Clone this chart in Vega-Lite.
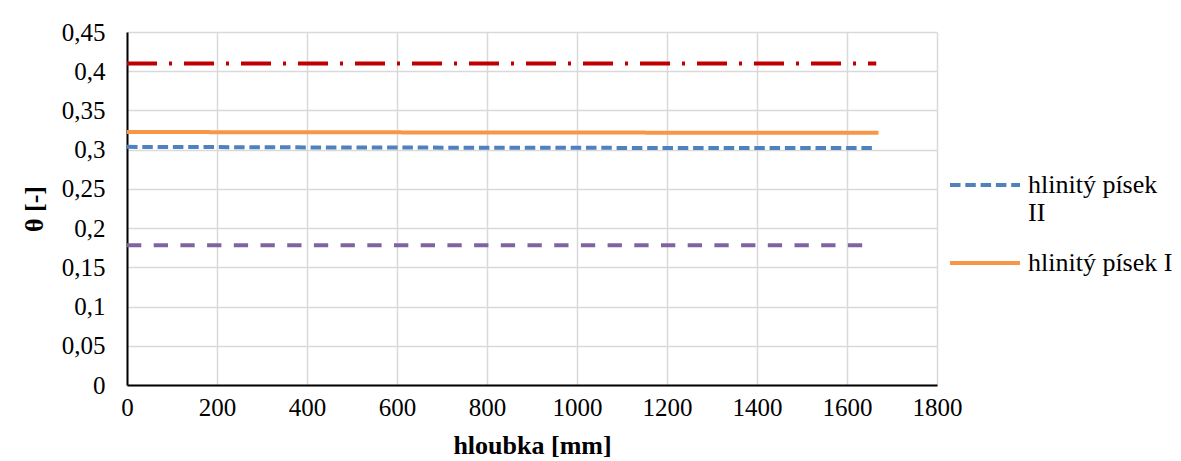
{
  "$schema": "https://vega.github.io/schema/vega-lite/v6.json",
  "width": 810,
  "height": 353,
  "autosize": {"type": "none"},
  "padding": {"left": 127, "top": 32, "right": 244, "bottom": 76},
  "background": "white",
  "config": {
    "font": "Times New Roman",
    "view": {"stroke": null},
    "axis": {"labelFont": "Times New Roman", "titleFont": "Times New Roman", "labelColor": "black", "titleColor": "black"},
    "legend": {"labelFont": "Times New Roman"}
  },
  "data": {
    "values": [
      {"serie": "řada 3", "hloubka": 0, "theta": 0.41},
      {"serie": "řada 3", "hloubka": 1665, "theta": 0.41},
      {"serie": "hlinitý písek I", "hloubka": 0, "theta": 0.3225},
      {"serie": "hlinitý písek I", "hloubka": 400, "theta": 0.3222},
      {"serie": "hlinitý písek I", "hloubka": 800, "theta": 0.3219},
      {"serie": "hlinitý písek I", "hloubka": 1200, "theta": 0.3217},
      {"serie": "hlinitý písek I", "hloubka": 1670, "theta": 0.3215},
      {"serie": "hlinitý písek II", "hloubka": 0, "theta": 0.3036},
      {"serie": "hlinitý písek II", "hloubka": 400, "theta": 0.3029},
      {"serie": "hlinitý písek II", "hloubka": 800, "theta": 0.3025},
      {"serie": "hlinitý písek II", "hloubka": 1200, "theta": 0.3022},
      {"serie": "hlinitý písek II", "hloubka": 1660, "theta": 0.302},
      {"serie": "řada 4", "hloubka": 0, "theta": 0.178},
      {"serie": "řada 4", "hloubka": 1642, "theta": 0.178}
    ]
  },
  "mark": {"type": "line", "strokeWidth": 4, "strokeCap": "butt"},
  "encoding": {
    "x": {
      "field": "hloubka", "type": "quantitative",
      "scale": {"domain": [0, 1800], "nice": false, "zero": true},
      "axis": {
        "title": "hloubka [mm]", "titleFontSize": 26, "titleFontWeight": "bold", "titlePadding": 12,
        "values": [0, 200, 400, 600, 800, 1000, 1200, 1400, 1600, 1800],
        "format": "d",
        "labelFontSize": 25, "labelPadding": 10, "ticks": false,
        "domainColor": "black", "domainWidth": 2,
        "grid": true, "gridColor": "#D9D9D9", "gridWidth": 1.5,
        "labelFlush": false, "labelOverlap": false
      }
    },
    "y": {
      "field": "theta", "type": "quantitative",
      "scale": {"domain": [0, 0.45], "nice": false},
      "axis": {
        "title": "θ [-]", "titleFontSize": 26, "titleFontWeight": "bold", "titlePadding": 14,
        "values": [0, 0.05, 0.1, 0.15, 0.2, 0.25, 0.3, 0.35, 0.4, 0.45],
        "format": "~g",
        "labelExpr": "replace(datum.label, '.', ',')",
        "labelFontSize": 25, "labelPadding": 22, "ticks": false,
        "domainColor": "black", "domainWidth": 2,
        "grid": true, "gridColor": "#D9D9D9", "gridWidth": 1.5,
        "labelFlush": false, "labelOverlap": false
      }
    },
    "color": {
      "field": "serie", "type": "nominal",
      "scale": {
        "domain": ["hlinitý písek II", "hlinitý písek I", "řada 3", "řada 4"],
        "range": ["#4F81BD", "#F79646", "#C00000", "#8064A2"]
      },
      "legend": {
        "title": null, "orient": "none", "legendX": 821, "legendY": 116,
        "values": ["hlinitý písek II", "hlinitý písek I"],
        "labelExpr": "datum.label == 'hlinitý písek II' ? ['hlinitý písek', 'II'] : datum.label",
        "labelFontSize": 26, "labelFont": "Times New Roman", "labelColor": "black", "labelLimit": 300,
        "symbolType": "stroke", "symbolSize": 4900, "symbolStrokeWidth": 4, "labelOffset": 6, "rowPadding": 0
      }
    },
    "strokeDash": {
      "field": "serie", "type": "nominal",
      "scale": {
        "domain": ["hlinitý písek II", "hlinitý písek I", "řada 3", "řada 4"],
        "range": [[10.5, 4.8], [1, 0], [30, 12, 3, 12], [14.3, 12.4]]
      },
      "legend": {
        "title": null, "orient": "none", "legendX": 821, "legendY": 116,
        "values": ["hlinitý písek II", "hlinitý písek I"],
        "labelExpr": "datum.label == 'hlinitý písek II' ? ['hlinitý písek', 'II'] : datum.label",
        "labelFontSize": 26, "labelFont": "Times New Roman", "labelColor": "black", "labelLimit": 300,
        "symbolType": "stroke", "symbolSize": 4900, "symbolStrokeWidth": 4, "labelOffset": 6, "rowPadding": 0
      }
    }
  }
}
